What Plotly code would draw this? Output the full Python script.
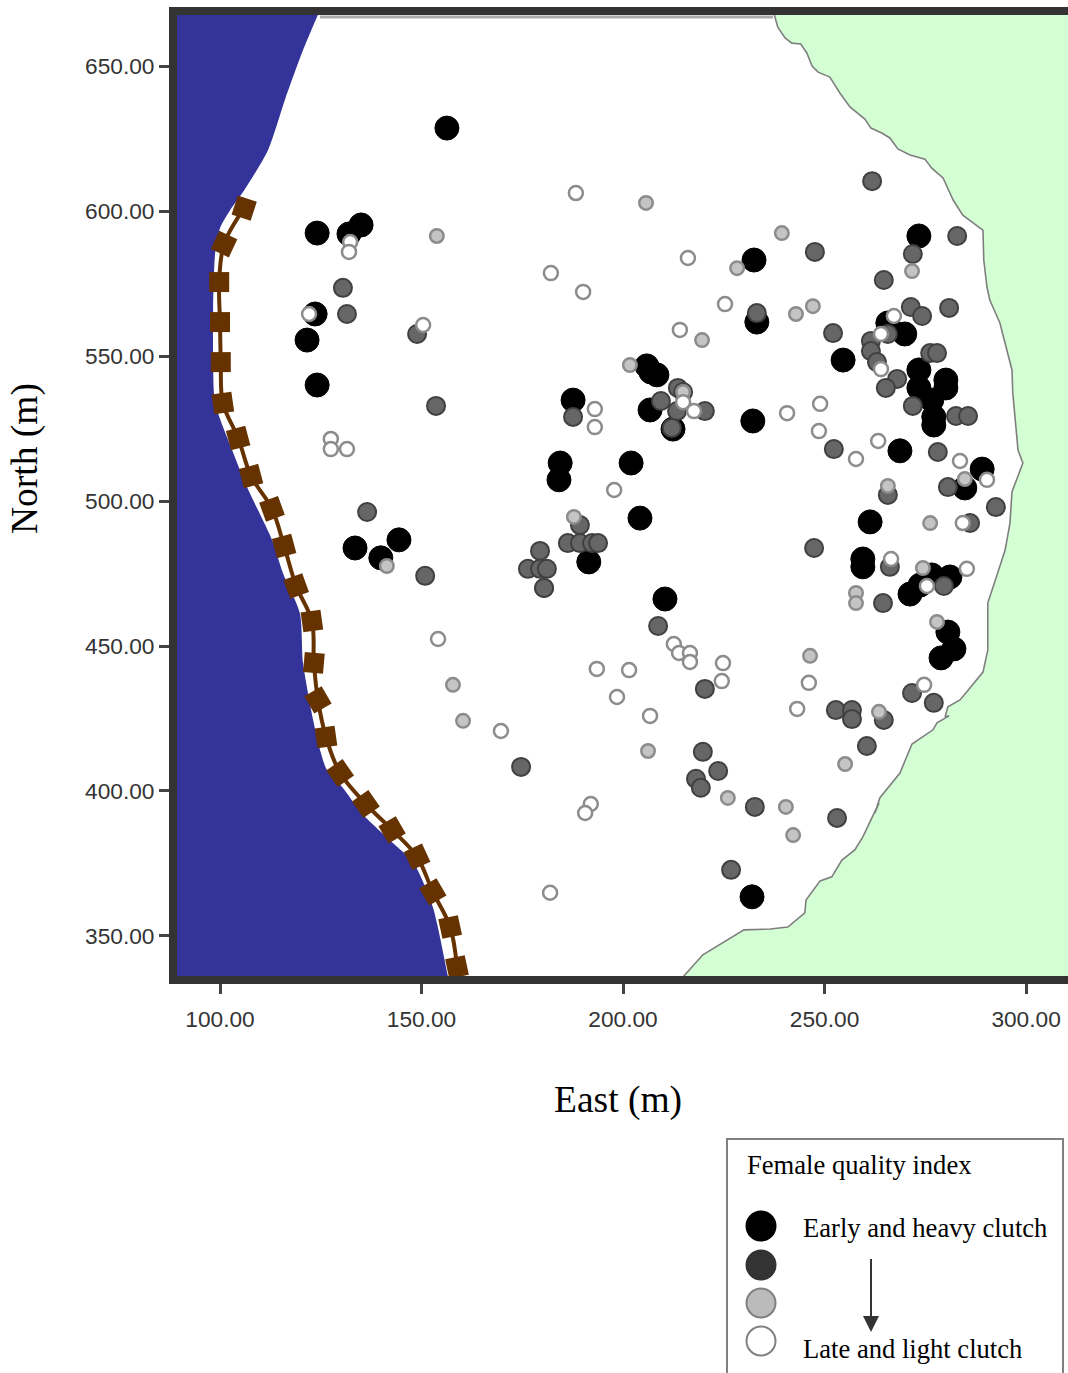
import plotly.graph_objects as go

W, H = 1068, 1373

# --- data (East, North in metres) ---
black_x = [156.3,124.1,132.0,135.0,123.6,121.6,124.1,133.5,139.9,144.4,232.5,233.2,232.2,187.6,184.4,184.1,202.0,204.2,191.5,210.4,205.9,206.9,208.4,206.7,212.4,232.0,254.6,268.7,261.3,259.5,259.5,273.4,265.7,269.9,273.4,273.4,276.6,280.1,280.1,277.1,277.1,289.1,284.8,271.2,273.7,276.6,281.1,280.6,282.1,278.9]
black_y = [628.6,592.4,592.1,595.2,564.5,555.5,540.0,483.8,480.4,486.6,583.1,561.7,527.6,534.8,513.1,507.3,513.1,494.1,479.0,466.2,546.6,544.5,543.5,531.4,524.8,363.5,548.6,517.3,492.8,480.0,477.3,591.4,561.4,557.6,545.2,539.0,534.8,541.7,539.0,529.0,526.2,511.0,504.5,467.9,471.0,474.5,473.8,454.8,449.0,445.9]

dark_x = [130.5,131.5,148.9,153.6,136.5,150.9,187.6,209.4,213.6,214.9,213.4,220.3,212.1,189.3,186.3,189.3,192.3,193.8,179.4,176.4,179.4,181.1,180.4,180.4,208.7,220.3,174.7,219.8,223.6,218.1,219.3,232.7,226.8,253.1,252.8,256.8,256.8,264.7,260.5,271.7,277.1,247.4,247.6,264.7,271.9,282.9,261.8,271.4,274.2,280.9,252.1,261.5,261.5,263.0,268.0,265.2,265.7,276.2,277.9,271.9,282.6,285.6,252.3,278.1,265.7,280.6,292.5,286.1,266.2,264.5,279.6,233.2]
dark_y = [573.5,564.5,557.6,532.8,496.2,474.2,529.0,534.5,539.0,537.6,531.0,531.0,525.2,491.7,485.5,485.5,485.5,485.5,482.8,476.6,476.6,476.6,470.0,470.0,456.9,435.2,408.3,413.5,406.9,404.2,401.1,394.5,372.8,390.7,427.9,427.9,424.8,424.5,415.5,433.8,430.4,483.8,585.9,576.2,585.2,591.4,610.3,566.9,563.8,566.6,557.9,555.2,551.7,547.9,542.1,539.0,557.6,551.0,551.0,532.8,529.3,529.3,517.9,516.9,502.1,504.8,497.9,492.4,477.3,464.8,470.7,564.8]

light_x = [205.7,239.4,228.3,271.7,242.9,247.1,219.6,201.7,153.8,141.4,157.8,160.3,206.2,226.0,240.4,242.2,255.1,263.5,246.4,257.8,257.8,276.2,265.7,284.8,274.4,187.8,214.9,277.9]
light_y = [602.8,592.4,580.3,579.3,564.5,567.2,555.5,546.9,591.4,477.6,436.6,424.2,413.8,397.6,394.5,384.8,409.3,427.3,446.6,468.3,464.8,492.4,505.2,507.6,476.9,494.5,537.6,458.3]

white_x = [188.3,182.1,216.1,190.1,225.3,214.1,132.3,132.0,122.1,150.4,193.0,193.0,127.5,127.5,131.5,240.7,248.9,248.6,257.8,263.3,283.6,290.3,284.3,266.5,285.3,275.4,264.0,267.2,264.0,214.9,217.6,197.8,154.1,193.5,201.5,198.5,206.7,169.7,212.6,213.9,216.6,216.6,224.8,224.5,246.1,243.2,274.7,192.0,190.6,181.9]
white_y = [606.2,578.6,583.8,572.1,567.9,559.0,589.3,585.9,564.5,560.7,531.7,525.5,521.4,517.9,517.9,530.3,533.5,524.1,514.5,520.7,513.8,507.3,492.4,480.0,476.6,470.7,557.6,563.8,545.5,534.1,531.0,503.8,452.4,442.1,441.7,432.4,425.9,420.7,450.7,447.6,447.6,444.5,444.1,437.9,437.3,428.3,436.6,395.5,392.4,364.9]

land_x = [237.2,238.4,240.2,241.9,244.1,245.6,246.9,248.4,251.3,253.8,256.3,260.0,261.5,264.2,266.2,268.2,271.2,274.9,276.6,279.4,281.9,284.3,288.6,289.3,289.5,290.3,291.0,293.5,296.5,296.7,298.0,299.2,296.5,296.0,294.8,290.5,290.5,289.3,285.3,283.6,280.6,279.9,280.9,277.9,276.9,271.7,268.7,263.7,262.5,263.5,259.5,257.5,254.3,251.8,248.9,245.4,245.1,240.9,236.5,230.0,219.8,214.9,214.1,315,315]
land_y = [669.3,663.4,659.7,657.9,657.6,654.5,650.0,647.9,646.2,640.7,635.9,631.7,628.6,626.9,625.2,621.4,619.3,617.9,614.8,611.4,603.8,598.6,594.1,593.4,583.1,573.8,569.3,561.4,545.2,537.2,517.6,513.1,503.1,492.4,483.1,464.8,448.6,441.0,434.2,431.4,429.0,425.5,425.9,423.5,421.1,416.2,406.2,397.6,392.4,395.9,384.2,379.7,376.2,370.4,369.0,362.4,358.0,353.1,352.4,352.1,343.5,335.9,334.2,334.2,669.3]

sea_x = [124.8,120.6,116.1,111.9,106.0,102.5,100.0,98.8,98.3,98.3,98.8,103.0,106.7,112.9,115.6,119.8,120.6,123.1,124.8,126.5,130.3,135.5,142.9,147.9,152.8,156.6,157.1,85,85]
sea_y = [669.3,655.5,638.3,621.0,607.2,600.3,594.1,585.5,566.9,549.7,533.8,517.6,504.8,486.6,475.2,461.4,444.2,424.5,414.2,407.3,401.4,391.8,382.1,375.5,360.0,335.9,333.1,333.1,669.3]

trail_x = [106.0,101.0,99.8,100.0,100.2,100.7,104.5,107.7,112.9,115.9,118.9,122.8,123.3,124.3,126.3,129.8,136.2,142.7,148.9,152.8,157.1,158.8]
trail_y = [601.0,588.6,575.5,561.7,547.9,533.8,521.7,508.6,497.3,484.5,470.7,458.6,444.2,431.4,418.6,406.2,395.5,386.6,377.3,365.2,353.1,339.3]
trail_angle = [18,25,0,0,0,-8,-15,-15,-20,-15,-20,-8,5,-30,-8,-35,-35,-30,-25,-30,-12,-12]

strip_x = [124.8, 237.2]
strip_y = [666.9, 666.9]

x_ticks = [100, 150, 200, 250, 300]
y_ticks = [350, 400, 450, 500, 550, 600, 650]
legend_title = "Female quality index"
legend_top = "Early and heavy clutch"
legend_bottom = "Late and light clutch"


def px(v):
    return v / W


def py(v):
    return 1 - v / H


fig = go.Figure()
fig.add_trace(go.Scatter(x=sea_x, y=sea_y, mode="lines", fill="toself", fillcolor="#333399",
                         line=dict(width=0, color="#333399", shape="spline", smoothing=0.7),
                         hoverinfo="skip", showlegend=False))
fig.add_trace(go.Scatter(x=land_x, y=land_y, mode="lines", fill="toself", fillcolor="#D4FFD4",
                         line=dict(width=1.6, color="#7f7f7f"), hoverinfo="skip", showlegend=False))
fig.add_trace(go.Scatter(x=strip_x, y=strip_y, mode="lines", line=dict(width=3, color="#aaaaaa"),
                         hoverinfo="skip", showlegend=False))
fig.add_trace(go.Scatter(x=trail_x, y=trail_y, mode="lines+markers",
                         line=dict(width=4, color="#663300", shape="spline"),
                         marker=dict(symbol="square", size=20, color="#663300", angle=trail_angle),
                         showlegend=False))

styles = [
    (black_x, black_y, 24, "#000000", "#000000", 1),
    (dark_x, dark_y, 18, "#666666", "#404040", 2),
    (light_x, light_y, 13.5, "#c4c4c4", "#8c8c8c", 2.5),
    (white_x, white_y, 14, "#ffffff", "#8c8c8c", 2.5),
]
for xs, ys, size, fill, edge, lw in styles:
    fig.add_trace(go.Scatter(x=xs, y=ys, mode="markers",
                             marker=dict(size=size, color=fill, line=dict(color=edge, width=lw)),
                             showlegend=False))

fig.update_xaxes(domain=[px(177), 1], range=[89.33, 310.4], tickmode="array", tickvals=x_ticks,
                 tickformat=".2f", ticks="outside", ticklen=10, tickwidth=3, tickcolor="#444444",
                 ticklabelstandoff=6,
                 showline=True, linecolor="#333333", linewidth=8, mirror=True, showgrid=False,
                 zeroline=False, tickfont=dict(family="Liberation Sans", size=22.7, color="#333333"))
fig.update_yaxes(domain=[py(976), py(15)], range=[336.2, 667.6], tickmode="array", tickvals=y_ticks,
                 tickformat=".2f", ticks="outside", ticklen=10, tickwidth=3, tickcolor="#444444",
                 showline=True, linecolor="#333333", linewidth=8, mirror=False, showgrid=False,
                 zeroline=False, tickfont=dict(family="Liberation Sans", size=22.7, color="#333333"))

serif = "Liberation Serif"
annotations = [
    dict(x=px(618), y=py(1100), text="East (m)", font=dict(family=serif, size=37.5, color="#000")),
    dict(x=px(25), y=py(459), text="North (m)", textangle=-90, font=dict(family=serif, size=37.5, color="#000")),
    dict(x=px(744.5), y=py(1165), text=legend_title, xanchor="left", font=dict(family=serif, size=26.6, color="#000")),
    dict(x=px(801), y=py(1228), text=legend_top, xanchor="left", font=dict(family=serif, size=26.6, color="#000")),
    dict(x=px(801), y=py(1349), text=legend_bottom, xanchor="left", font=dict(family=serif, size=26.6, color="#000")),
]
for a in annotations:
    a.update(xref="paper", yref="paper", showarrow=False)
    a.setdefault("xanchor", "center")
    a.setdefault("yanchor", "middle")

shapes = [
    dict(type="path", xref="paper", yref="paper",
         path=f"M{px(727)},{py(1380)} L{px(727)},{py(1139)} L{px(1063)},{py(1139)} L{px(1063)},{py(1380)}",
         line=dict(color="#808080", width=2)),
    dict(type="line", xref="paper", yref="paper", x0=px(871), x1=px(871), y0=py(1259), y1=py(1320),
         line=dict(color="#333333", width=2)),
    dict(type="path", xref="paper", yref="paper",
         path=f"M{px(863)},{py(1316)} L{px(879)},{py(1316)} L{px(871)},{py(1332)} Z",
         fillcolor="#333333", line=dict(color="#333333", width=0)),
]
for cy, fill, edge in [(1226, "#000000", "#000000"), (1265, "#333333", "#333333"),
                       (1303, "#bbbbbb", "#808080"), (1341, "#ffffff", "#808080")]:
    shapes.append(dict(type="circle", xref="paper", yref="paper",
                       x0=px(746.5), x1=px(775.5), y0=py(cy + 14.5), y1=py(cy - 14.5),
                       fillcolor=fill, line=dict(color=edge, width=2)))

fig.update_layout(width=W, height=H, margin=dict(l=0, r=0, t=0, b=0), autosize=False,
                  paper_bgcolor="#ffffff", plot_bgcolor="#ffffff", showlegend=False,
                  annotations=annotations, shapes=shapes)

fig.write_html("out.html", config={"displayModeBar": False},
               post_script="document.body.style.margin='0';document.body.style.overflow='hidden';")
